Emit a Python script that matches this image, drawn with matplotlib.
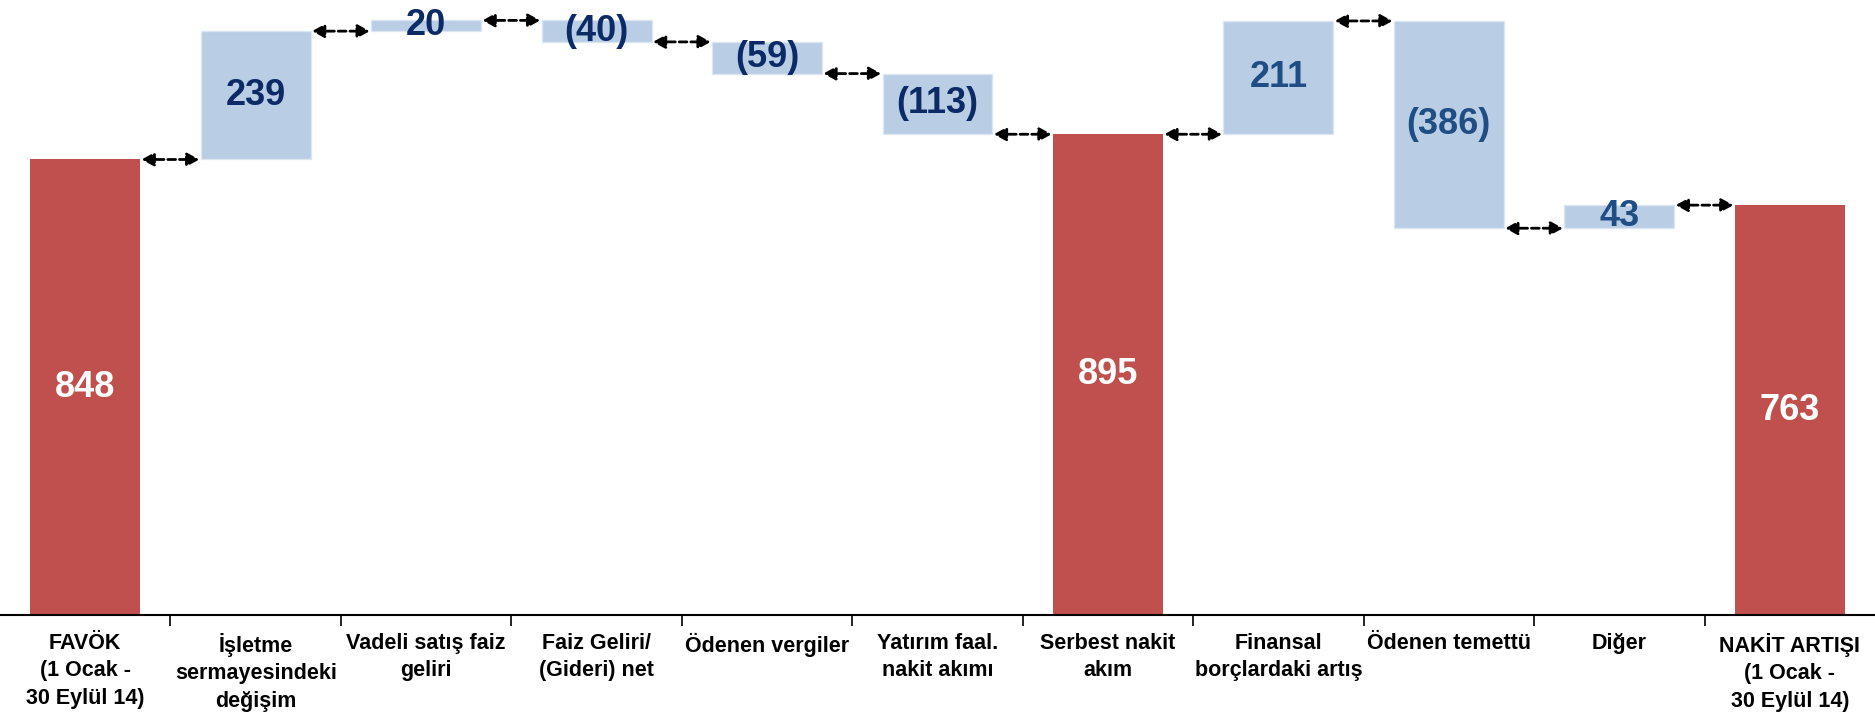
import numpy as np
import matplotlib
matplotlib.use("Agg")
import matplotlib.pyplot as plt

plt.rcParams['font.family'] = ['Liberation Sans Narrow', 'Liberation Sans', 'DejaVu Sans']

# ---------- DATA ----------
categories = [
    "FAVÖK\n(1 Ocak -\n30 Eylül 14)",
    "İşletme\nsermayesindeki\ndeğişim",
    "Vadeli satış faiz\ngeliri",
    "Faiz Geliri/\n(Gideri) net",
    "Ödenen vergiler",
    "Yatırım faal.\nnakit akımı",
    "Serbest nakit\nakım",
    "Finansal\nborçlardaki artış",
    "Ödenen temettü",
    "Diğer",
    "NAKİT ARTIŞI\n(1 Ocak -\n30 Eylül 14)",
]
values = [848, 239, 20, -40, -59, -113, 895, 211, -386, 43, 763]
is_total = [True, False, False, False, False, False, True, False, False, False, True]
value_labels = ["848", "239", "20", "(40)", "(59)", "(113)", "895", "211", "(386)", "43", "763"]
label_colors = ["white", "#0B2A66", "#0B2A66", "#0B2A66", "#0B2A66", "#0B2A66",
                "white", "#1F4E85", "#1F4E85", "#1F4E85", "white"]

# ---------- WATERFALL GEOMETRY ----------
bottoms, heights, levels = [], [], []
running = 0
for v, tot in zip(values, is_total):
    if tot:
        bottoms.append(0)
        heights.append(v)
        running = v
    else:
        start = running
        running = running + v
        bottoms.append(min(start, running))
        heights.append(abs(v))
    levels.append(running)

red = "#C0504D"
blue = "#B9CDE5"
colors = [red if t else blue for t in is_total]

fig = plt.figure(figsize=(18.75, 7.2), dpi=100)
ax = fig.add_axes([0, 0.146, 1, 0.854])

x = np.arange(len(values))
width = 0.645
ax.bar(x, heights, bottom=bottoms, width=width, color=colors,
       edgecolor=["none" if t else "#DCE6F2" for t in is_total], linewidth=1)

for i in range(len(values)):
    ax.text(x[i], bottoms[i] + heights[i] / 2, value_labels[i],
            ha="center", va="center", fontsize=26, fontweight="bold",
            color=label_colors[i])

# dashed connectors between neighbouring bars
for i in range(len(values) - 1):
    ax.annotate("", xy=(x[i + 1] - width / 2, levels[i]),
                xytext=(x[i] + width / 2, levels[i]),
                arrowprops=dict(arrowstyle="<|-|>,head_length=0.4,head_width=0.22",
                                linestyle=(0, (2.8, 1.4)), linewidth=2,
                                color="black", shrinkA=1, shrinkB=1,
                                mutation_scale=18))

ax.set_xlim(-0.5, len(values) - 0.5)
ax.set_ylim(0, 1145)

for side in ["top", "right", "left"]:
    ax.spines[side].set_visible(False)
ax.spines["bottom"].set_linewidth(1.5)
ax.set_yticks([])

ax.set_xticks(x)
ax.set_xticklabels(categories, fontsize=15.5, fontweight="bold", linespacing=1.4)
ax.tick_params(axis="x", which="major", length=0, pad=13)
ax.set_xticks(x[:-1] + 0.5, minor=True)
ax.tick_params(axis="x", which="minor", length=8, width=1.2, direction="out")

fig.savefig("out.png", dpi=100)
